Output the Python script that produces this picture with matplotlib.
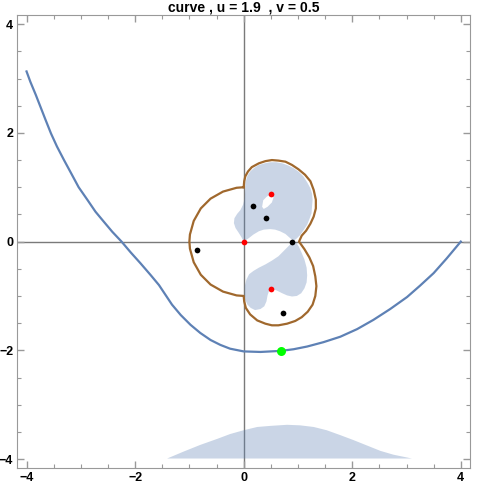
import matplotlib.pyplot as plt
import numpy as np

plt.rcParams['font.family'] = ['Liberation Sans', 'DejaVu Sans']

title = 'curve , u = 1.9  , v = 0.5'

# blue curve
curve_x = [-4.0, -3.93, -3.83, -3.74, -3.65, -3.55, -3.44, -3.31, -3.18, -3.04, -2.88, -2.73,
           -2.58, -2.42, -2.25, -2.08, -1.90, -1.71, -1.56, -1.44, -1.32, -1.16, -0.98, -0.80,
           -0.61, -0.43, -0.25, 0.0, 0.31, 0.69, 0.92, 1.17, 1.47, 1.78, 2.09, 2.39, 2.70, 3.01,
           3.25, 3.50, 3.74, 4.0]
curve_y = [3.13, 2.94, 2.70, 2.47, 2.24, 1.99, 1.75, 1.50, 1.26, 1.00, 0.77, 0.55,
           0.37, 0.18, 0.0, -0.20, -0.40, -0.62, -0.80, -0.98, -1.16, -1.35, -1.53, -1.68,
           -1.81, -1.90, -1.97, -2.02, -2.03, -2.01, -1.98, -1.93, -1.85, -1.75, -1.61, -1.44, -1.24, -1.02,
           -0.81, -0.58, -0.31, 0.0]

# brown closed curve
loop_x = [0.0, -0.13, -0.38, -0.61, -0.79, -0.92, -0.99, -1.0, -0.99, -0.92, -0.79, -0.61, -0.38, -0.13, 0.0,
          0.01, 0.04, 0.12, 0.25, 0.40, 0.52, 0.64, 0.80, 0.95, 1.07, 1.18, 1.27, 1.32, 1.34, 1.32,
          1.28, 1.21, 1.12, 1.02,
          1.07, 1.15, 1.23, 1.29, 1.33, 1.33, 1.29, 1.23, 1.13, 1.01, 0.89, 0.77, 0.64, 0.52,
          0.40, 0.28, 0.15, 0.08, 0.03, 0.01, 0.0]
loop_y = [1.0, 0.99, 0.92, 0.79, 0.61, 0.38, 0.13, 0.0, -0.13, -0.38, -0.61, -0.79, -0.92, -0.99, -1.0,
          -1.10, -1.22, -1.34, -1.45, -1.51, -1.54, -1.54, -1.51, -1.46, -1.39, -1.29, -1.16, -1.00, -0.82, -0.64,
          -0.45, -0.29, -0.14, 0.0,
          0.11, 0.20, 0.33, 0.46, 0.61, 0.77, 0.95, 1.11, 1.23, 1.33, 1.41, 1.47, 1.49, 1.50,
          1.48, 1.44, 1.37, 1.29, 1.20, 1.11, 1.0]

# shaded regions
upper_x = [0.0, -0.04, -0.09, -0.15, -0.18, -0.17, -0.12, -0.06, -0.01, 0.02, 0.03, 0.04, 0.07, 0.12,
           0.20, 0.28, 0.39, 0.49, 0.60, 0.71, 0.82, 0.92, 1.02, 1.10, 1.17, 1.23, 1.26, 1.27, 1.26,
           1.25, 1.21, 1.17, 1.11, 1.04, 0.98, 0.92, 0.86, 0.77, 0.67, 0.58, 0.49, 0.37, 0.28, 0.18, 0.09]
upper_y = [0.0, 0.08, 0.16, 0.25, 0.34, 0.43, 0.51, 0.58, 0.68, 0.80, 0.95, 1.11, 1.21, 1.29,
           1.36, 1.41, 1.44, 1.46, 1.46, 1.44, 1.40, 1.35, 1.28, 1.20, 1.09, 0.98, 0.88, 0.77, 0.65,
           0.52, 0.41, 0.31, 0.22, 0.12, 0.06, 0.01, 0.06, 0.14, 0.19, 0.22, 0.23, 0.22, 0.19, 0.13, 0.06]
hole_x = [0.34, 0.36, 0.43, 0.51, 0.55, 0.52, 0.44, 0.37]
hole_y = [0.64, 0.76, 0.83, 0.87, 0.81, 0.72, 0.64, 0.60]
lower_x = [0.92, 0.84, 0.75, 0.64, 0.52, 0.40, 0.28, 0.18, 0.10, 0.05, 0.02, 0.02, 0.03, 0.07,
           0.13, 0.21, 0.31, 0.38, 0.42, 0.44, 0.47, 0.53, 0.61, 0.71, 0.80, 0.89, 0.98, 1.06,
           1.12, 1.16, 1.17, 1.16, 1.12, 1.07, 1.02, 0.97]
lower_y = [0.01, -0.07, -0.16, -0.27, -0.35, -0.42, -0.48, -0.54, -0.60, -0.70, -0.82, -0.94, -1.07, -1.16,
           -1.22, -1.26, -1.24, -1.19, -1.10, -0.99, -0.90, -0.87, -0.90, -0.95, -0.99, -1.01, -1.00, -0.95,
           -0.86, -0.75, -0.62, -0.48, -0.33, -0.21, -0.10, -0.02]
bump_x = [-1.41, -1.10, -0.80, -0.49, -0.25, 0.0, 0.25, 0.49, 0.80, 1.04, 1.29, 1.53, 1.78,
          2.02, 2.27, 2.52, 2.76, 3.10]
bump_y = [-3.99, -3.86, -3.74, -3.63, -3.54, -3.47, -3.41, -3.39, -3.37, -3.38, -3.41, -3.47, -3.56,
          -3.65, -3.75, -3.85, -3.92, -3.99]

# points
black_x = [0.18, 0.41, 0.89, -0.86, 0.72]
black_y = [0.66, 0.43, 0.0, -0.16, -1.32]
red_x = [0.0, 0.50, 0.50]
red_y = [0.0, 0.87, -0.87]
green_x = [0.69]
green_y = [-2.01]

fig = plt.figure(figsize=(4.85, 4.9), dpi=100)
ax = fig.add_axes([0.0357, 0.0443, 0.9334, 0.9253])
ax.set_xlim(-4.17, 4.17)
ax.set_ylim(-4.17, 4.17)

ax.axhline(0, color='#7a7a7a', lw=1.0, zorder=1)
ax.axvline(0, color='#7a7a7a', lw=1.0, zorder=1)

fill_c = '#5E81B5'
ax.fill(upper_x, upper_y, color=fill_c, alpha=0.33, lw=0, zorder=2)
ax.fill(hole_x, hole_y, color='white', lw=0, zorder=2)
ax.fill(lower_x, lower_y, color=fill_c, alpha=0.33, lw=0, zorder=2)
ax.fill(bump_x + [bump_x[0]], bump_y + [bump_y[0]], color=fill_c, alpha=0.33, lw=0, zorder=2)

ax.plot(loop_x, loop_y, color='#A0682D', lw=1.6, zorder=3, solid_joinstyle='round')
ax.plot(curve_x, curve_y, color='#5E81B5', lw=1.6, zorder=3, solid_joinstyle='round')

ax.scatter(black_x, black_y, s=17, color='black', zorder=4, linewidths=0)
ax.scatter(red_x, red_y, s=17, color='red', zorder=4, linewidths=0)
ax.scatter(green_x, green_y, s=42, color='#00ff00', zorder=4, linewidths=0)

ax.set_title(title, fontsize=10, fontweight='bold', pad=1)

major = [-4, -2, 0, 2, 4]
ax.set_xticks(major)
ax.set_yticks(major)
ax.set_xticklabels([str(v).replace('-', '\u2212') for v in major], fontweight='bold', fontsize=9)
ax.set_yticklabels([str(v).replace('-', '\u2212') for v in major], fontweight='bold', fontsize=9)
ax.set_xticks(np.arange(-4, 4.01, 0.5), minor=True)
ax.set_yticks(np.arange(-4, 4.01, 0.5), minor=True)
ax.tick_params(which='both', direction='in', top=True, right=True, color='#999999', pad=3)
ax.tick_params(which='major', length=5, width=1)
ax.tick_params(which='minor', length=3, width=0.8)
for sp in ax.spines.values():
    sp.set_color('#999999')

fig.savefig('out.png', dpi=100)
